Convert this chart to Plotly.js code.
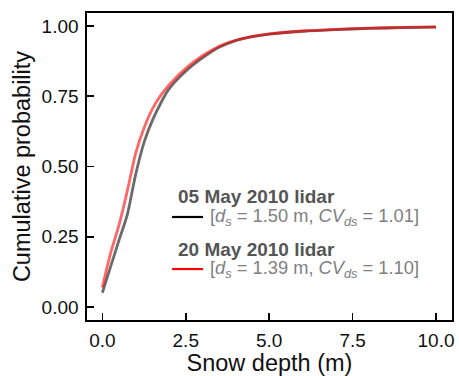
<!DOCTYPE html>
<html>
<head>
<meta charset="utf-8">
<script src="https://cdn.plot.ly/plotly-3.0.1.min.js"></script>
<style>html,body{margin:0;padding:0;background:#fff;}#chart{width:459px;height:376px;}</style>
</head>
<body>
<div id="chart"></div>
<script>
// Snow depth (m)
const depth = [0, 0.25, 0.5, 0.75, 0.9, 1.0, 1.25, 1.5, 1.75, 2.0, 2.5, 3.0, 3.5, 4.0, 4.5, 5.0, 6.0, 7.0, 8.0, 9.0, 10.0];
// Cumulative probability, 05 May 2010 lidar
const cdfMay05 = [0.051, 0.145, 0.238, 0.330, 0.415, 0.472, 0.586, 0.664, 0.725, 0.776, 0.839, 0.886, 0.924, 0.948, 0.962, 0.971, 0.981, 0.987, 0.991, 0.994, 0.996];
// Cumulative probability, 20 May 2010 lidar
const cdfMay20 = [0.070, 0.193, 0.292, 0.414, 0.496, 0.548, 0.637, 0.705, 0.753, 0.790, 0.849, 0.894, 0.928, 0.949, 0.963, 0.972, 0.982, 0.988, 0.992, 0.995, 0.997];

const seriesNames = ["05 May 2010 lidar", "20 May 2010 lidar"];
const seriesStats = ["[<i>d</i><sub><i>s</i></sub> = 1.50 m, <i>CV</i><sub><i>ds</i></sub> = 1.01]",
                     "[<i>d</i><sub><i>s</i></sub> = 1.39 m, <i>CV</i><sub><i>ds</i></sub> = 1.10]"];
const xTicks = [0, 2.5, 5, 7.5, 10];
const xTickText = ["0.0", "2.5", "5.0", "7.5", "10.0"];
const yTicks = [0, 0.25, 0.5, 0.75, 1];
const yTickText = ["0.00", "0.25", "0.50", "0.75", "1.00"];

const font = "Arial, 'Liberation Sans', sans-serif";

const traces = [
  {x: depth, y: cdfMay05, mode: "lines", name: seriesNames[0], showlegend: false,
   line: {color: "rgba(0,0,0,0.58)", width: 2.8, shape: "spline", smoothing: 0.9}},
  {x: depth, y: cdfMay20, mode: "lines", name: seriesNames[1], showlegend: false,
   line: {color: "rgba(255,0,0,0.6)", width: 2.8, shape: "spline", smoothing: 0.9}}
];

const axisCommon = {
  showline: true, linecolor: "#000", linewidth: 1.6, mirror: true,
  ticks: "inside", ticklen: 7, tickwidth: 1.6, tickcolor: "#000",
  showgrid: false, zeroline: false,
  tickfont: {family: font, size: 19, color: "#111"}
};

const layout = {
  width: 459, height: 376,
  margin: {l: 87, r: 7, t: 13, b: 56},
  paper_bgcolor: "#fff", plot_bgcolor: "#fff",
  font: {family: font},
  xaxis: Object.assign({}, axisCommon, {
    range: [-0.46, 10.48], tickvals: xTicks, ticktext: xTickText, ticklabelstandoff: 3,
    title: {text: "Snow depth (m)", font: {family: font, size: 23.5, color: "#111"}, standoff: 4}
  }),
  yaxis: Object.assign({}, axisCommon, {
    range: [-0.046, 1.046], tickvals: yTicks, ticktext: yTickText, ticklabelstandoff: 3,
    title: {text: "Cumulative probability", font: {family: font, size: 23.5, color: "#111"}, standoff: 4}
  }),
  annotations: [
    {xref: "paper", yref: "paper", x: 0.244, y: 0.401, xanchor: "left", yanchor: "middle", showarrow: false,
     text: "<b>" + seriesNames[0] + "</b>", font: {family: font, size: 19, color: "#555"}},
    {xref: "paper", yref: "paper", x: 0.331, y: 0.336, xanchor: "left", yanchor: "middle", showarrow: false,
     text: seriesStats[0], font: {family: font, size: 18.3, color: "#808080"}},
    {xref: "paper", yref: "paper", x: 0.244, y: 0.231, xanchor: "left", yanchor: "middle", showarrow: false,
     text: "<b>" + seriesNames[1] + "</b>", font: {family: font, size: 19, color: "#555"}},
    {xref: "paper", yref: "paper", x: 0.331, y: 0.166, xanchor: "left", yanchor: "middle", showarrow: false,
     text: seriesStats[1], font: {family: font, size: 18.3, color: "#808080"}}
  ],
  shapes: [
    {type: "line", xref: "paper", yref: "paper", x0: 0.233, x1: 0.318, y0: 0.3355, y1: 0.3355,
     line: {color: "#000", width: 2.2}},
    {type: "line", xref: "paper", yref: "paper", x0: 0.233, x1: 0.318, y0: 0.166, y1: 0.166,
     line: {color: "#ff0000", width: 2.2}}
  ]
};

Plotly.newPlot("chart", traces, layout, {staticPlot: true, displayModeBar: false});
</script>
</body>
</html>
